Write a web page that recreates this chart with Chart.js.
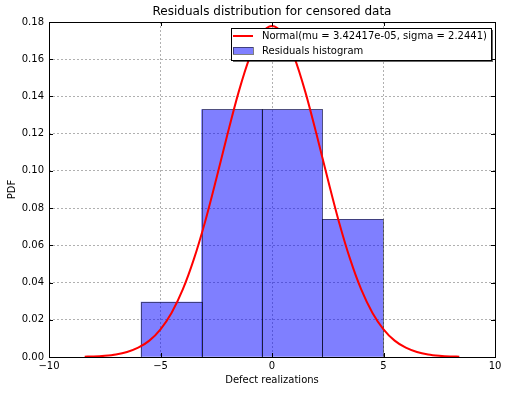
<!DOCTYPE html>
<html>
<head>
<meta charset="utf-8">
<script src="https://cdn.jsdelivr.net/npm/chart.js@4.4.1/dist/chart.umd.min.js"></script>
<style>
  html, body { margin: 0; padding: 0; background: #fff; }
  #wrap { width: 508px; height: 393px; }
</style>
</head>
<body>
<div id="wrap"><canvas id="chart" width="508" height="393"></canvas></div>
<script>
// Histogram bins (edges) and density heights
const binEdges = [-5.87, -3.16, -0.45, 2.26, 4.97];
const binDensity = [0.0295, 0.1330, 0.1330, 0.0740];

// Fitted normal curve
const curveX = [-8.4, -8, -7.5, -7, -6.5, -6, -5.5, -5, -4.5, -4, -3.5, -3, -2.5, -2, -1.5, -1, -0.5, 0,
                0.5, 1, 1.5, 2, 2.5, 3, 3.5, 4, 4.5, 5, 5.5, 6, 6.5, 7, 7.5, 8, 8.4];
const curveY = [0.0002, 0.0003, 0.0007, 0.0014, 0.0027, 0.0050, 0.0088, 0.0149, 0.0238, 0.0363, 0.0527,
                0.0727, 0.0956, 0.1195, 0.1422, 0.1610, 0.1734, 0.1778,
                0.1734, 0.1610, 0.1422, 0.1195, 0.0956, 0.0727, 0.0527, 0.0363, 0.0238, 0.0149, 0.0088,
                0.0050, 0.0027, 0.0014, 0.0007, 0.0003, 0.0002];

const xTicks = [-10, -5, 0, 5, 10];
const yTicks = [0, 0.02, 0.04, 0.06, 0.08, 0.10, 0.12, 0.14, 0.16, 0.18];

const titleText = 'Residuals distribution for censored data';
const curveLabel = 'Normal(mu = 3.42417e-05, sigma = 2.2441)';
const histLabel = 'Residuals histogram';

const FONT = '"DejaVu Sans", sans-serif';

const barPoints = binDensity.map((d, i) => ({ x: (binEdges[i] + binEdges[i + 1]) / 2, y: d }));
const curvePoints = curveX.map((x, i) => ({ x: x, y: curveY[i] }));

// bar edges drawn centred on the bin boundaries (like matplotlib)
const barEdgePlugin = {
    id: 'barEdges',
    afterDatasetDraw(chart, args) {
        if (args.index !== 1) return;
        const ctx = chart.ctx;
        ctx.save();
        ctx.strokeStyle = 'rgba(0,0,0,0.5)';
        ctx.lineWidth = 1;
        args.meta.data.forEach(bar => {
            const l = Math.round(bar.x - bar.width / 2) + 0.5;
            const r = Math.round(bar.x + bar.width / 2) + 0.5;
            const t = Math.round(bar.y) + 0.5;
            const b = Math.round(bar.base) + 0.5;
            ctx.strokeRect(l, t, r - l, b - t);
        });
        ctx.restore();
    }
};

// title, frame, inward ticks and legend box drawn on top of the plot
const framePlugin = {
    id: 'frame',
    afterDatasetsDraw(chart) {
        const ctx = chart.ctx;
        const a = chart.chartArea;
        const sx = chart.scales.x, sy = chart.scales.y;
        ctx.save();
        ctx.strokeStyle = '#000';
        ctx.lineWidth = 1;
        ctx.beginPath();
        xTicks.forEach(t => {
            const px = Math.round(sx.getPixelForValue(t)) + 0.5;
            ctx.moveTo(px, a.bottom); ctx.lineTo(px, a.bottom - 4);
            ctx.moveTo(px, a.top); ctx.lineTo(px, a.top + 4);
        });
        yTicks.forEach(t => {
            const py = Math.round(sy.getPixelForValue(t)) + 0.5;
            ctx.moveTo(a.left, py); ctx.lineTo(a.left + 4, py);
            ctx.moveTo(a.right, py); ctx.lineTo(a.right - 4, py);
        });
        ctx.stroke();
        ctx.strokeRect(Math.round(a.left) + 0.5, Math.round(a.top) + 0.5,
            Math.round(a.right - a.left), Math.round(a.bottom - a.top));

        ctx.fillStyle = '#000';
        ctx.font = '12px ' + FONT;
        ctx.textAlign = 'center';
        ctx.textBaseline = 'middle';
        ctx.fillText(titleText, (a.left + a.right) / 2, 12);

        // legend
        const lx = 231, ly = 28, lw = 260, lh = 32;
        ctx.fillStyle = 'rgba(0,0,0,0.6)';
        ctx.fillRect(lx + 2, ly + 2, lw, lh);
        ctx.fillStyle = '#fff';
        ctx.fillRect(lx, ly, lw, lh);
        ctx.strokeStyle = '#000';
        ctx.strokeRect(lx + 0.5, ly + 0.5, lw, lh);

        ctx.strokeStyle = '#ff0000';
        ctx.lineWidth = 2;
        ctx.beginPath();
        ctx.moveTo(233, 36); ctx.lineTo(253, 36);
        ctx.stroke();

        ctx.fillStyle = 'rgba(0,0,255,0.5)';
        ctx.fillRect(233, 47, 20, 7);
        ctx.strokeStyle = 'rgba(0,0,0,0.5)';
        ctx.lineWidth = 1;
        ctx.strokeRect(233.5, 47.5, 20, 7);

        ctx.fillStyle = '#000';
        ctx.font = '10px ' + FONT;
        ctx.textAlign = 'left';
        ctx.fillText(curveLabel, 262, 36);
        ctx.fillText(histLabel, 262, 51);
        ctx.restore();
    }
};

new Chart(document.getElementById('chart'), {
    type: 'bar',
    data: {
        datasets: [
            {
                type: 'line',
                label: curveLabel,
                data: curvePoints,
                borderColor: '#ff0000',
                borderWidth: 2,
                pointRadius: 0,
                cubicInterpolationMode: 'monotone',
                fill: false,
                order: 0
            },
            {
                label: histLabel,
                data: barPoints,
                backgroundColor: 'rgba(0,0,255,0.5)',
                borderWidth: 0,
                barPercentage: 1,
                categoryPercentage: 1,
                order: 1
            }
        ]
    },
    options: {
        responsive: false,
        animation: false,
        layout: { padding: { left: 0, right: 13, top: 22, bottom: 0 } },
        plugins: {
            legend: { display: false },
            tooltip: { enabled: false },
            title: { display: false }
        },
        scales: {
            x: {
                type: 'linear',
                min: -10,
                max: 10,
                offset: false,
                afterFit: s => { s.height = 36; },
                afterBuildTicks: s => { s.ticks = xTicks.map(v => ({ value: v })); },
                grid: { color: '#b0b0b0', drawTicks: false, offset: false },
                border: { display: false, dash: [2, 2] },
                ticks: {
                    color: '#000',
                    padding: 3,
                    maxRotation: 0,
                    font: { family: FONT, size: 10 },
                    callback: v => (v < 0 ? '\u2212' + Math.abs(v) : String(v))
                },
                title: {
                    display: true,
                    text: 'Defect realizations',
                    color: '#000',
                    font: { family: FONT, size: 10 },
                    padding: { top: 0, bottom: 7 }
                }
            },
            y: {
                min: 0,
                max: 0.18,
                afterFit: s => { s.width = 49; },
                afterBuildTicks: s => { s.ticks = yTicks.map(v => ({ value: v })); },
                grid: { color: '#b0b0b0', drawTicks: false },
                border: { display: false, dash: [2, 2] },
                ticks: {
                    color: '#000',
                    padding: 5,
                    font: { family: FONT, size: 10 },
                    callback: v => v.toFixed(2)
                },
                title: {
                    display: true,
                    text: 'PDF',
                    color: '#000',
                    font: { family: FONT, size: 10 },
                    padding: { top: 6, bottom: 0 }
                }
            }
        }
    },
    plugins: [barEdgePlugin, framePlugin]
});
</script>
</body>
</html>
